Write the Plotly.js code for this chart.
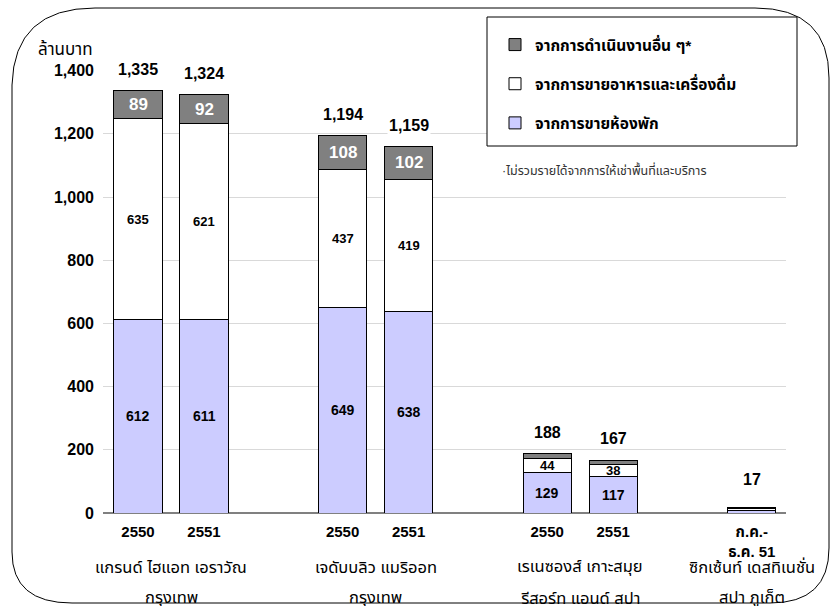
<!DOCTYPE html>
<html>
<head>
<meta charset="utf-8">
<script src="https://cdn.plot.ly/plotly-3.0.1.min.js"></script>
<style>html,body{margin:0;padding:0;background:#fff;}#chart{width:838px;height:606px;}</style>
</head>
<body>
<div id="chart"></div>
<script>
// ---- data ----
const yearLabels = ['2550', '2551', '2550', '2551', '2550', '2551', 'ก.ค.-<br>ธ.ค. 51'];
const groupIndex = [0, 0, 1, 1, 2, 2, 3];
const slotIndex = [0, 1, 0, 1, 0, 1, 0];
const groupLine1 = ['แกรนด์ ไฮแอท เอราวัณ', 'เจดับบลิว แมริออท', 'เรเนซองส์ เกาะสมุย', 'ซิกเซ้นท์ เดสทิเนชั่น'];
const groupLine2 = ['กรุงเทพ', 'กรุงเทพ', 'รีสอร์ท แอนด์ สปา', 'สปา ภูเก็ต'];
const roomRevenue = [612, 611, 649, 638, 129, 117, 8];
const foodRevenue = [635, 621, 437, 419, 44, 38, 5];
const otherRevenue = [89, 92, 108, 102, 15, 12, 4];
const totals = [1335, 1324, 1194, 1159, 188, 167, 17];
const showRoomLabel = [true, true, true, true, true, true, false];
const showFoodLabel = [true, true, true, true, true, true, false];
const showOtherLabel = [true, true, true, true, false, false, false];
const seriesNames = ['จากการขายห้องพัก', 'จากการขายอาหารและเครื่องดื่ม', 'จากการดำเนินงานอื่น ๆ*'];
const yTickVals = [0, 200, 400, 600, 800, 1000, 1200, 1400];
const yTickText = ['0', '200', '400', '600', '800', '1,000', '1,200', '1,400'];

// ---- layout helpers ----
const W = 838, H = 606;
const M = {l: 103, r: 52, t: 70, b: 93};
const PW = W - M.l - M.r, PH = H - M.t - M.b;
const GROUP_STEP = 3.1;
const xs = groupIndex.map((g, i) => g * GROUP_STEP + slotIndex[i]);
const groupCenters = groupLine1.map((_, g) => {
  const mem = xs.filter((_, i) => groupIndex[i] === g);
  return mem.reduce((a, b) => a + b, 0) / mem.length;
});
const px = p => (p - M.l) / PW;
const py = p => (H - M.b - p) / PH;

const FONT = "'Liberation Sans', Arial, 'Noto Sans Thai', Tahoma, sans-serif";
const barLine = {color: '#000', width: 1};
const BW = 0.73;

const traces = [
  {type: 'bar', name: seriesNames[0], x: xs, y: roomRevenue, width: BW,
   marker: {color: '#ccccff', line: barLine}, legendgroup: 'a', legendrank: 3, hoverinfo: 'none'},
  {type: 'bar', name: seriesNames[1], x: xs, y: foodRevenue, width: BW,
   marker: {color: '#ffffff', line: barLine}, legendgroup: 'b', legendrank: 2, hoverinfo: 'none'},
  {type: 'bar', name: seriesNames[2], x: xs, y: otherRevenue, width: BW,
   marker: {color: '#808080', line: barLine}, legendgroup: 'c', legendrank: 1, hoverinfo: 'none'}
];

const fmt = v => v.toLocaleString('en-US');
const annotations = [];
xs.forEach((x, i) => {
  if (showRoomLabel[i]) annotations.push({x: x, y: roomRevenue[i] / 2, xref: 'x', yref: 'y', text: String(roomRevenue[i]),
    showarrow: false, font: {family: FONT, size: 14, color: '#000', weight: 'bold'}});
  if (showFoodLabel[i]) annotations.push({x: x, y: roomRevenue[i] + foodRevenue[i] / 2, xref: 'x', yref: 'y', text: String(foodRevenue[i]),
    showarrow: false, font: {family: FONT, size: 13, color: '#000', weight: 'bold'}});
  if (showOtherLabel[i]) annotations.push({x: x, y: roomRevenue[i] + foodRevenue[i] + otherRevenue[i] / 2, xref: 'x', yref: 'y', text: String(otherRevenue[i]),
    showarrow: false, font: {family: FONT, size: 17, color: '#fff', weight: 'bold'}});
  annotations.push({x: x, y: roomRevenue[i] + foodRevenue[i] + otherRevenue[i], xref: 'x', yref: 'y', text: fmt(totals[i]),
    showarrow: false, yanchor: 'bottom', yshift: i === 6 ? 18 : 11, bgcolor: '#fff', borderpad: 1,
    font: {family: FONT, size: 16, color: '#000', weight: 'bold'}});
});
groupCenters.forEach((c, g) => {
  annotations.push({x: c, xref: 'x', y: py(578), yref: 'paper', text: groupLine1[g], showarrow: false,
    font: {family: FONT, size: 16.5, color: '#000'}});
  annotations.push({x: c, xref: 'x', y: py(609), yref: 'paper', text: groupLine2[g], showarrow: false,
    font: {family: FONT, size: 16.5, color: '#000'}});
});
annotations.push({x: px(36), y: py(37), xref: 'paper', yref: 'paper', xanchor: 'left', text: 'ล้านบาท', showarrow: false,
  font: {family: FONT, size: 17, color: '#000'}});
annotations.push({x: px(500), y: py(160), xref: 'paper', yref: 'paper', xanchor: 'left', text: '·ไม่รวมรายได้จากการให้เช่าพื้นที่และบริการ', showarrow: false,
  font: {family: FONT, size: 12.5, color: '#333'}});

const P = (x, y) => px(x) + ',' + py(y);
const frame = 'M' + P(12, 85) + ' Q' + P(14, 8) + ' ' + P(95, 8) + ' L' + P(755, 8) + ' Q' + P(829, 8) + ' ' + P(829, 78) +
  ' L' + P(829, 548) + ' Q' + P(829, 603) + ' ' + P(770, 603) + ' L' + P(72, 603) + ' Q' + P(12, 603) + ' ' + P(12, 552) + ' Z';

const layout = {
  width: W, height: H,
  margin: M,
  barmode: 'stack',
  paper_bgcolor: '#fff', plot_bgcolor: '#fff',
  font: {family: FONT, color: '#000'},
  xaxis: {range: [(M.l - 138) / 66, (M.l + PW - 138) / 66], tickvals: xs, ticktext: yearLabels,
    showgrid: false, zeroline: false, showline: false, ticks: '', ticklabelstandoff: 8,
    tickfont: {family: FONT, size: 15, color: '#000', weight: 'bold'}},
  yaxis: {range: [0, 1402], tickvals: yTickVals, ticktext: yTickText, showgrid: true, gridcolor: '#d9d9d9', gridwidth: 1,
    zeroline: true, zerolinecolor: '#808080', zerolinewidth: 2, showline: false, ticks: '', ticklabelstandoff: 8,
    tickfont: {family: FONT, size: 16, color: '#000', weight: 'bold'}},
  showlegend: true,
  legend: {x: px(495), y: py(28), xanchor: 'left', yanchor: 'top', traceorder: 'grouped', tracegroupgap: 16,
    bgcolor: 'rgba(0,0,0,0)', borderwidth: 0, font: {family: FONT, size: 15.5, color: '#000', weight: 'bold'}},
  shapes: [
    {type: 'rect', xref: 'paper', yref: 'paper', x0: px(487), x1: px(797), y0: py(146), y1: py(17),
      fillcolor: '#fff', line: {color: '#000', width: 1}, layer: 'above'},
    {type: 'path', xref: 'paper', yref: 'paper', path: frame, line: {color: '#000', width: 1}, layer: 'below'}
  ],
  annotations: annotations
};

Plotly.newPlot('chart', traces, layout, {displayModeBar: false, staticPlot: true});
</script>
</body>
</html>
